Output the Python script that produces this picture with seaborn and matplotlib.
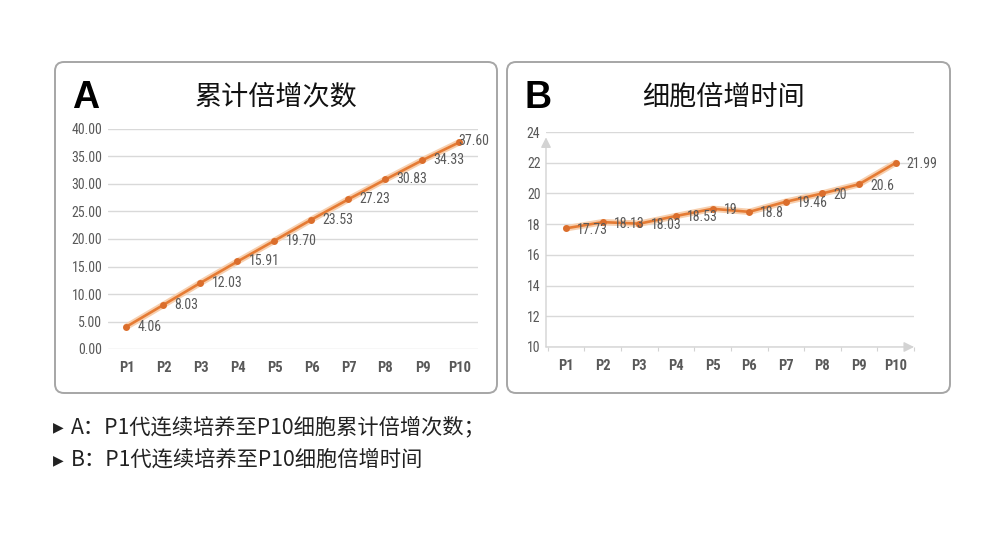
import matplotlib
matplotlib.use("Agg")
import matplotlib.pyplot as plt
from matplotlib import font_manager as fm
from matplotlib.patches import FancyBboxPatch
import seaborn as sns
import pandas as pd
import numpy as np

# ---------------- data ----------------
passages = ["P1", "P2", "P3", "P4", "P5", "P6", "P7", "P8", "P9", "P10"]
cum_doublings = [4.06, 8.03, 12.03, 15.91, 19.70, 23.53, 27.23, 30.83, 34.33, 37.60]
doubling_time = [17.73, 18.13, 18.03, 18.53, 19, 18.8, 19.46, 20, 20.6, 21.99]
a_yticks = [0, 5, 10, 15, 20, 25, 30, 35, 40]
b_yticks = [10, 12, 14, 16, 18, 20, 22, 24]
title_a = "累计倍增次数"
title_b = "细胞倍增时间"
caption_a = "A：P1代连续培养至P10细胞累计倍增次数；"
caption_b = "B：P1代连续培养至P10细胞倍增时间"

sns.set_theme(style="white")


def pick(names):
    for n in names:
        try:
            fm.findfont(fm.FontProperties(family=n), fallback_to_default=False)
            return n
        except Exception:
            pass
    return "DejaVu Sans"


CJK = pick(["Noto Sans CJK SC"])
NUM = pick(["Liberation Sans Narrow", "Roboto Condensed", "Liberation Sans"])
NUM_SIZE = 10 if NUM != "Liberation Sans" else 8.3
plt.rcParams["font.family"] = [CJK, "DejaVu Sans"]

W, H = 1003, 537
fig = plt.figure(figsize=(W / 100, H / 100), dpi=100)
fig.patch.set_facecolor("white")

# background axes in pixel coordinates
bg = fig.add_axes([0, 0, 1, 1], zorder=-1)
bg.set_xlim(0, W)
bg.set_ylim(H, 0)
bg.axis("off")

for x0, x1 in [(55, 497), (507, 950)]:
    bg.add_patch(FancyBboxPatch((x0, 62), x1 - x0, 331,
                                boxstyle="round,pad=0,rounding_size=9",
                                facecolor="white", edgecolor="#a6a6a6", lw=1.4))

TEXT_GRAY = "#595959"
LINE_C = "#E57B34"
HALO_C = "#F7CFAE"
MARK_C = "#DB6E2C"


def fmt_a(v):
    return "{:.2f}".format(v)


def fmt_b(v):
    return "{:d}".format(int(v))


def draw_panel(rect_px, values, yticks, ylim, fmt, lblfmt, label_offsets, xlim, arrows):
    l, t, r, b = rect_px
    ax = fig.add_axes([l / W, (H - b) / H, (r - l) / W, (b - t) / H])
    df = pd.DataFrame({"passage": passages, "value": values})
    # soft halo under the line
    sns.lineplot(data=df, x="passage", y="value", ax=ax, sort=False,
                 color=HALO_C, linewidth=4.6, zorder=2)
    sns.lineplot(data=df, x="passage", y="value", ax=ax, sort=False,
                 color=LINE_C, linewidth=1.9, marker="o", markersize=5,
                 markeredgewidth=0, markerfacecolor=MARK_C, zorder=3)
    ax.set_xlim(*xlim)
    ax.set_ylim(*ylim)
    ax.set_yticks(yticks)
    ax.set_yticklabels([fmt(v) for v in yticks])
    ax.set_xticks(range(len(passages)))
    ax.set_xticklabels(passages)
    ax.set_xlabel("")
    ax.set_ylabel("")
    ax.grid(axis="y", color="#d9d9d9", lw=1)
    ax.grid(axis="x", visible=False)
    ax.set_axisbelow(True)
    for s in ax.spines.values():
        s.set_visible(False)
    ax.set_facecolor("none")
    for lab in ax.get_yticklabels():
        lab.set_fontfamily(NUM)
        lab.set_fontsize(NUM_SIZE)
        lab.set_color(TEXT_GRAY)
    for lab in ax.get_xticklabels():
        lab.set_fontfamily(NUM)
        lab.set_fontsize(NUM_SIZE + 0.5)
        lab.set_fontweight("bold")
        lab.set_color(TEXT_GRAY)
    ax.tick_params(axis="y", length=0, pad=4)
    ax.tick_params(axis="x", which="major", length=0, pad=9)
    for i, v in enumerate(values):
        dx, dy = label_offsets[i]
        ax.annotate(lblfmt(v), xy=(i, v), xytext=(dx, dy), textcoords="offset points",
                    ha="left", va="center", fontsize=NUM_SIZE,
                    family=NUM, color=TEXT_GRAY, annotation_clip=False, zorder=4)
    if arrows:
        ac = "#d3d3d3"
        ax.annotate("", xy=(0, 0.975), xytext=(0, 0), xycoords="axes fraction",
                    arrowprops=dict(arrowstyle="-|>,head_length=0.5,head_width=0.25",
                                    color=ac, lw=1, shrinkA=0, shrinkB=0))
        ax.annotate("", xy=(1.0, 0), xytext=(0, 0), xycoords="axes fraction",
                    arrowprops=dict(arrowstyle="-|>,head_length=0.5,head_width=0.25",
                                    color=ac, lw=1, shrinkA=0, shrinkB=0))
        ax.set_xticks(np.arange(-0.5, len(passages), 1.0), minor=True)
        ax.tick_params(axis="x", which="minor", length=3, width=0.8, color=ac,
                       bottom=True, direction="out")
    return ax


offs_a = [(8, 0)] * 9 + [(-1, 1)]
offs_b = [(8, -1)] * 10

draw_panel((108, 129, 478, 349), cum_doublings, a_yticks, (0, 40), fmt_a,
           lambda v: "{:.2f}".format(v), offs_a, (-0.5, 9.5), arrows=False)
draw_panel((546, 132, 914, 347), doubling_time, b_yticks, (10, 24), fmt_b,
           lambda v: "{:g}".format(v), offs_b, (-0.55, 9.45), arrows=True)

# panel letters and titles
bg.text(86, 98, "A", ha="center", va="center", fontsize=27, fontweight="bold",
        family="Liberation Sans", color="black")
bg.text(538, 98, "B", ha="center", va="center", fontsize=27, fontweight="bold",
        family="Liberation Sans", color="black")
bg.text(276, 97, title_a, ha="center", va="center", fontsize=19.5, color="#111111")
bg.text(723, 97, title_b, ha="center", va="center", fontsize=19.5, color="#111111")

# captions
for y, txt in [(427, caption_a), (460, caption_b)]:
    bg.text(58, y, "▶", ha="center", va="center", fontsize=10,
            family="DejaVu Sans", color="#222222")
    bg.text(71, y, txt, ha="left", va="center", fontsize=15.3, color="#222222")

fig.savefig("out.png", dpi=100, facecolor="white")
